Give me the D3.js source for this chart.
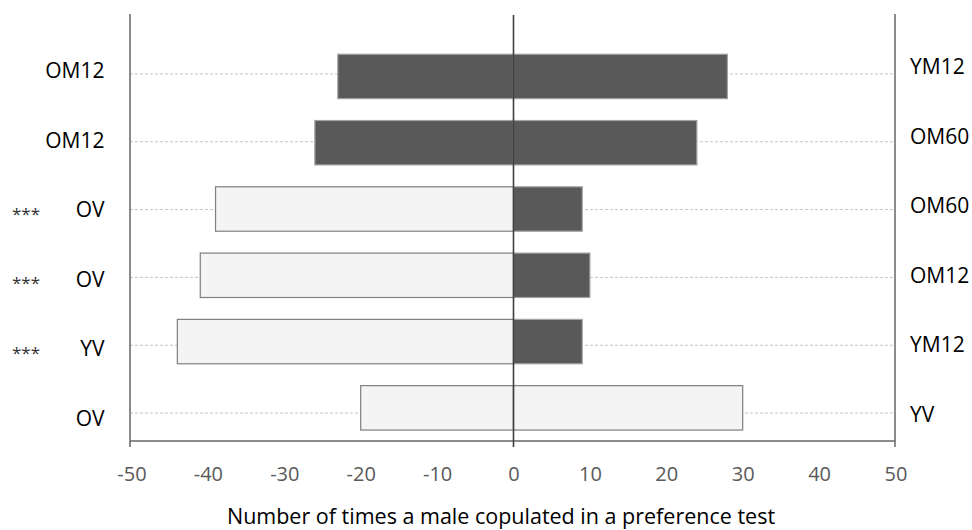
<!DOCTYPE html>
<html>
<head>
<meta charset="utf-8">
<script src="https://cdn.jsdelivr.net/npm/d3@7"></script>
<style>
  html, body { margin: 0; padding: 0; background: #fff; }
  svg { display: block; font-family: "Open Sans", "Liberation Sans", sans-serif; }
</style>
</head>
<body>
<svg id="chart" width="972" height="530"></svg>
<script>
// Paired preference tests: left = first choice offered, right = second choice
const leftLabels  = ["OM12", "OM12", "OV", "OV", "YV", "OV"];
const rightLabels = ["YM12", "OM60", "OM60", "OM12", "YM12", "YV"];
const leftValues  = [-23, -26, -39, -41, -44, -20];
const rightValues = [28, 24, 9, 10, 9, 30];
const significance = ["", "", "***", "***", "***", ""];
const xTicks = [-50, -40, -30, -20, -10, 0, 10, 20, 30, 40, 50];
const xTitle = "Number of times a male copulated in a preference test";

const svg = d3.select("#chart");
const plot = { left: 130, right: 895, top: 14, bottom: 441 };
const labelSize = 21;

const x = d3.scaleLinear().domain([-50, 50]).range([131.5, 895.5]);
const rows = d3.range(leftLabels.length);

// bars in one band scale; gridlines and the two label columns on their own scales
const yBar = d3.scaleBand().domain(rows).range([43.3, plot.bottom])
  .paddingInner(0.33).paddingOuter(0.165);
const yGrid = d3.scaleBand().domain(rows).range([40, 447]);
const gridY = i => yGrid(i) + yGrid.bandwidth() / 2;
const yLeftLab = d3.scalePoint().domain(rows).range([70.5, 418.5]);
const yRightLab = d3.scalePoint().domain(rows).range([66.5, 414.5]);
// baseline that centres capital letters on a given y
const capBase = y => y + labelSize * 0.357;

const isVirgin = name => name.endsWith("V");
const fillFor = name => isVirgin(name) ? "#f4f4f4" : "#595959";
const strokeFor = name => isVirgin(name) ? "#7f7f7f" : "#a3a3a3";

// dashed gridlines
svg.append("g").selectAll("line").data(rows).join("line")
  .attr("x1", plot.left).attr("x2", plot.right)
  .attr("y1", d => gridY(d)).attr("y2", d => gridY(d))
  .attr("stroke", "#c4c4c4").attr("stroke-width", 1)
  .attr("stroke-dasharray", "3,2");

// bars
const bars = rows.flatMap(i => [
  { row: i, value: leftValues[i], name: leftLabels[i] },
  { row: i, value: rightValues[i], name: rightLabels[i] }
]);
svg.append("g").selectAll("rect").data(bars).join("rect")
  .attr("x", d => Math.min(x(0), x(d.value)))
  .attr("width", d => Math.abs(x(d.value) - x(0)))
  .attr("y", d => yBar(d.row))
  .attr("height", yBar.bandwidth())
  .attr("fill", d => fillFor(d.name))
  .attr("stroke", d => strokeFor(d.name))
  .attr("stroke-width", 1.2);

// bottom axis
const xAxis = svg.append("g")
  .attr("transform", `translate(0,${plot.bottom})`)
  .call(d3.axisBottom(x).tickValues(xTicks).tickSize(0).tickPadding(26)
    .tickFormat(d => String(d)));
xAxis.select(".domain")
  .attr("d", `M${plot.left},0H${plot.right}`)
  .attr("stroke", "#666").attr("stroke-width", 1.5);
xAxis.selectAll("text")
  .attr("fill", "#595959")
  .style("font-size", "20px")
  .style("font-family", "'Open Sans', sans-serif");

// vertical frame lines and zero line
svg.append("line").attr("x1", plot.left).attr("x2", plot.left)
  .attr("y1", plot.top).attr("y2", 447)
  .attr("stroke", "#6e6e6e").attr("stroke-width", 1.6);
svg.append("line").attr("x1", plot.right).attr("x2", plot.right)
  .attr("y1", plot.top).attr("y2", 447)
  .attr("stroke", "#6e6e6e").attr("stroke-width", 1.6);
svg.append("line").attr("x1", x(0)).attr("x2", x(0))
  .attr("y1", 15).attr("y2", 447)
  .attr("stroke", "#404040").attr("stroke-width", 1.6);

// category labels
svg.append("g").selectAll("text").data(rows).join("text")
  .attr("x", 104.5).attr("y", d => capBase(yLeftLab(d)))
  .attr("text-anchor", "end")
  .style("font-size", labelSize + "px").attr("fill", "#000")
  .text(d => leftLabels[d]);
svg.append("g").selectAll("text").data(rows).join("text")
  .attr("x", 910).attr("y", d => capBase(yRightLab(d)))
  .attr("text-anchor", "start")
  .style("font-size", labelSize + "px").attr("fill", "#000")
  .text(d => rightLabels[d]);

// significance markers
svg.append("g").selectAll("text").data(rows.filter(i => significance[i]))
  .join("text")
  .attr("x", 26).attr("y", d => yLeftLab(d) + 10)
  .attr("text-anchor", "middle")
  .style("font-size", "17px").attr("fill", "#333")
  .text(d => significance[d]);

// axis title
svg.append("text")
  .attr("x", 501).attr("y", 524)
  .attr("text-anchor", "middle")
  .style("font-size", "21.5px").attr("fill", "#000")
  .text(xTitle);
</script>
</body>
</html>
